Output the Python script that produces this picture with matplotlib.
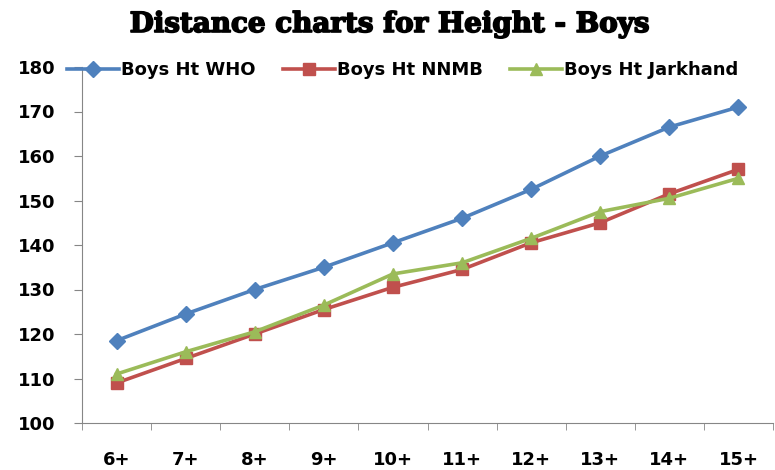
import matplotlib
matplotlib.use("Agg")
import matplotlib.pyplot as plt
import matplotlib.patheffects as pe

categories = ["6+", "7+", "8+", "9+", "10+", "11+", "12+", "13+", "14+", "15+"]
who = [118.5, 124.5, 130, 135, 140.5, 146, 152.5, 160, 166.5, 171]
nnmb = [109, 114.5, 120, 125.5, 130.5, 134.5, 140.5, 145, 151.5, 157]
jark = [111, 116, 120.5, 126.5, 133.5, 136, 141.5, 147.5, 150.5, 155]
series_names = ["Boys Ht WHO", "Boys Ht NNMB", "Boys Ht Jarkhand"]
yticks = [100, 110, 120, 130, 140, 150, 160, 170, 180]

fig = plt.figure(figsize=(7.75, 4.7), dpi=100)
ax = fig.add_axes([82 / 775, 47 / 470, 691 / 775, 356 / 470])

x = list(range(len(categories)))
ax.plot(x, who, color="#4F81BD", lw=2.6, marker="D", ms=8, label=series_names[0])
ax.plot(x, nnmb, color="#C0504D", lw=2.6, marker="s", ms=8, label=series_names[1])
ax.plot(x, jark, color="#9BBB59", lw=2.6, marker="^", ms=9, label=series_names[2])

ax.set_xlim(-0.5, len(categories) - 0.5)
ax.set_ylim(100, 180)
ax.set_yticks(yticks)
ax.set_yticklabels([str(v) for v in yticks], fontweight="bold", fontsize=13)
ax.set_xticks(x)
ax.set_xticklabels(categories, fontweight="bold", fontsize=13)
ax.tick_params(axis="x", length=0, pad=20)
ax.set_xticks([i - 0.5 for i in range(len(categories) + 1)], minor=True)
ax.tick_params(axis="x", which="minor", length=5, color="#868686", direction="out")
ax.tick_params(axis="y", length=6, color="#868686", direction="out", pad=13)

for s in ["top", "right"]:
    ax.spines[s].set_visible(False)
for s in ["left", "bottom"]:
    ax.spines[s].set_color("#868686")

leg = fig.legend(loc="center left", bbox_to_anchor=(67 / 775, 1 - 70 / 470), ncol=3, frameon=False,
                 prop={"weight": "bold", "size": 13}, handlelength=2.9, columnspacing=1.5,
                 handletextpad=0.1, borderaxespad=0, borderpad=0)

fig.text(389.5 / 775, 1 - 32 / 470, "Distance charts for Height - Boys", ha="center", va="baseline",
         fontsize=20, fontweight="bold", family="DejaVu Serif",
         path_effects=[pe.withStroke(linewidth=1.2, foreground="black")])

fig.savefig("out.png", dpi=100)
